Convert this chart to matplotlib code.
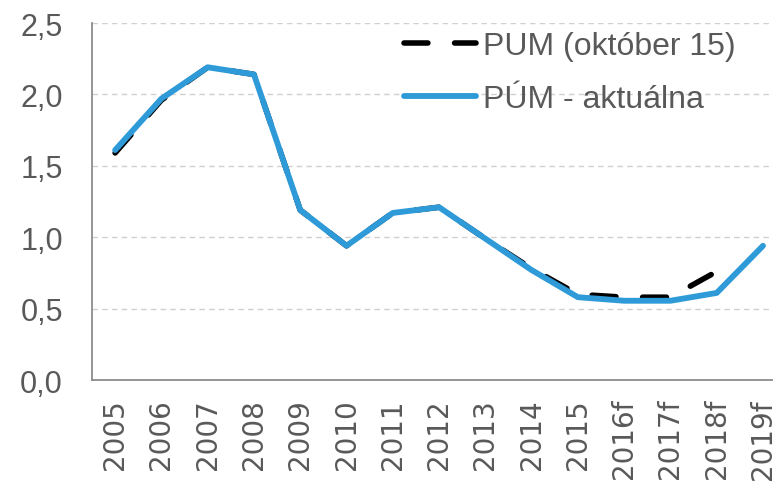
import matplotlib.pyplot as plt
import numpy as np

years = ['2005', '2006', '2007', '2008', '2009', '2010', '2011', '2012',
         '2013', '2014', '2015', '2016f', '2017f', '2018f', '2019f']
pum_okt15 = [1.59, 1.96, 2.19, 2.14, 1.19, 0.94, 1.17, 1.21,
             0.99, 0.78, 0.60, 0.58, 0.58, 0.76]
pum_aktual = [1.61, 1.97, 2.19, 2.14, 1.19, 0.94, 1.17, 1.21,
              0.99, 0.77, 0.58, 0.555, 0.555, 0.61, 0.94]

grey = '#595959'
plt.rcParams['font.family'] = ['Liberation Sans', 'DejaVu Sans']

fig = plt.figure(figsize=(7.73, 4.85), dpi=100)
ax = fig.add_axes([0.119, 0.2144, 0.898, 0.7361])

x = np.arange(len(years))
ax.plot(x[:len(pum_okt15)], pum_okt15, color='black', lw=4,
        dashes=(4.3, 4.8), dash_capstyle='round', label='PUM (október 15)')
ax.plot(x, pum_aktual, color='#2E9AD8', lw=4.2, solid_capstyle='round',
        label='PÚM - aktuálna')

ax.set_xlim(-0.5, len(years) - 0.5)
ax.set_ylim(0, 2.5)
yt = np.arange(0, 2.51, 0.5)
ax.set_yticks(yt)
ax.set_yticklabels([f'{v:.1f}'.replace('.', ',') for v in yt], fontsize=22)
ax.set_xticks(x)
ax.set_xticklabels(years, rotation=90, fontsize=20, family='DejaVu Sans')
ax.tick_params(axis='both', length=0, labelcolor=grey)
ax.tick_params(axis='x', pad=13)
ax.tick_params(axis='y', pad=21)

for v in yt[1:]:
    ax.axhline(v, color='#d0d0d0', lw=1, ls=(0, (4, 3)), zorder=0)

for s in ['top', 'right']:
    ax.spines[s].set_visible(False)
for s in ['left', 'bottom']:
    ax.spines[s].set_color('#8c8c8c')
    ax.spines[s].set_linewidth(1.3)

leg = ax.legend(loc='upper left', bbox_to_anchor=(0.45, 0.978), frameon=False,
                fontsize=23, handlelength=2.25, handletextpad=0.2,
                labelspacing=0.73, borderaxespad=0, borderpad=0)
for t in leg.get_texts():
    t.set_color(grey)

fig.savefig('out.png', dpi=100)
